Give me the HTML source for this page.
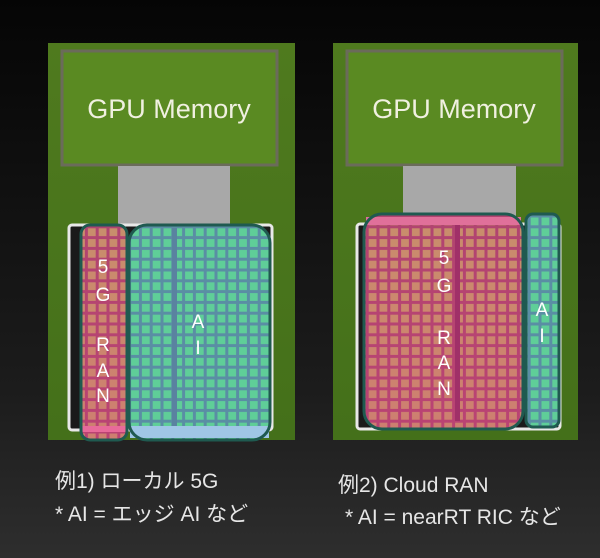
<!DOCTYPE html>
<html><head><meta charset="utf-8"><style>
html,body{margin:0;padding:0;width:600px;height:558px;overflow:hidden;background:#111}
svg{display:block}
</style></head><body>
<svg width="600" height="558" viewBox="0 0 600 558" xmlns="http://www.w3.org/2000/svg">
<defs>
<linearGradient id="bg" x1="0" y1="0" x2="0" y2="1">
<stop offset="0" stop-color="#050505"/><stop offset="0.7" stop-color="#1c1c1c"/><stop offset="1" stop-color="#2e2e2e"/>
</linearGradient>
<linearGradient id="board" x1="0" y1="0" x2="0" y2="1">
<stop offset="0" stop-color="#4f7a1e"/><stop offset="1" stop-color="#44701a"/>
</linearGradient>
<pattern id="pc" x="0" y="0" width="10.8" height="10.8" patternUnits="userSpaceOnUse">
<rect width="10.8" height="10.8" fill="#b04470"/><rect x="1.5" y="1.5" width="7.8" height="7.8" fill="#c88e6c"/>
</pattern>
<pattern id="gc" x="0" y="0" width="10.8" height="10.8" patternUnits="userSpaceOnUse">
<rect width="10.8" height="10.8" fill="#5a8ea4"/><rect x="1.5" y="1.5" width="7.8" height="7.8" fill="#5fce98"/>
</pattern>
<linearGradient id="pinkov" x1="0" y1="0" x2="0" y2="1">
<stop offset="0" stop-color="#ff4080" stop-opacity="0"/><stop offset="1" stop-color="#e04080" stop-opacity="0.2"/>
</linearGradient>
</defs>
<rect width="600" height="558" fill="url(#bg)"/>

<!-- LEFT -->
<rect x="48" y="43" width="247" height="397" fill="url(#board)"/>
<rect x="62" y="51" width="215" height="114" fill="#5a8a22" stroke="#6b6b5a" stroke-width="3"/>
<text x="169" y="118" text-anchor="middle" font-family="Liberation Sans, sans-serif" font-size="27" fill="#f0f0e0">GPU Memory</text>
<rect x="118" y="166" width="112" height="60" fill="#a8a8a8"/>
<rect x="69" y="225" width="203" height="205" fill="#1a1a1a" stroke="#e8e8e8" stroke-width="3" rx="3"/>
<g>
<rect x="81" y="225" width="46" height="215" rx="9" fill="url(#pc)"/>
<rect x="81" y="225" width="46" height="215" rx="9" fill="url(#pinkov)"/>
<rect x="81" y="426" width="46" height="6" fill="#e86a9a"/>
<rect x="81" y="225" width="46" height="215" rx="9" fill="none" stroke="#1f5a50" stroke-width="3"/>
</g>
<g>
<rect x="129" y="225" width="141" height="215" rx="18" fill="url(#gc)"/>
<rect x="172" y="228" width="5" height="198" fill="#5a82a0"/>
<rect x="130" y="426" width="139" height="12" fill="#9fc6e6"/>
<rect x="129" y="225" width="141" height="215" rx="18" fill="none" stroke="#1f5a50" stroke-width="3"/>
</g>
<g font-family="Liberation Sans, sans-serif" font-size="19" fill="#fff" text-anchor="middle">
<text x="103" y="273">5</text><text x="103" y="301">G</text>
<text x="103" y="351">R</text><text x="103" y="377">A</text><text x="103" y="402">N</text>
<text x="198" y="328">A</text><text x="198" y="354">I</text>
</g>

<!-- RIGHT -->
<rect x="333" y="43" width="245" height="397" fill="url(#board)"/>
<rect x="347" y="51" width="215" height="114" fill="#5a8a22" stroke="#6b6b5a" stroke-width="3"/>
<text x="454" y="118" text-anchor="middle" font-family="Liberation Sans, sans-serif" font-size="27" fill="#f0f0e0">GPU Memory</text>
<rect x="403" y="166" width="113" height="52" fill="#a8a8a8"/>
<rect x="357" y="224" width="203" height="205" fill="#1a1a1a" stroke="#e8e8e8" stroke-width="3" rx="3"/>
<g>
<rect x="364" y="214" width="159" height="215" rx="18" fill="url(#pc)"/>
<rect x="364" y="214" width="159" height="215" rx="18" fill="url(#pinkov)"/>
<rect x="366" y="217" width="155" height="8" fill="#e0709a"/>
<rect x="455" y="225" width="5" height="196" fill="#a03068"/>
<rect x="364" y="214" width="159" height="215" rx="18" fill="none" stroke="#1f5a50" stroke-width="3"/>
</g>
<g>
<rect x="526" y="214" width="33" height="213" rx="7" fill="url(#gc)"/>
<rect x="526" y="214" width="33" height="213" rx="7" fill="none" stroke="#1f5a50" stroke-width="3"/>
</g>
<g font-family="Liberation Sans, sans-serif" font-size="19" fill="#fff" text-anchor="middle">
<text x="444" y="264">5</text><text x="444" y="292">G</text>
<text x="444" y="344">R</text><text x="444" y="369">A</text><text x="444" y="395">N</text>
<text x="542" y="316">A</text><text x="542" y="342">I</text>
</g>

<!-- captions -->
<g font-family="Liberation Sans, 'Noto Sans CJK JP', sans-serif" font-size="21" fill="#e6e6e6">
<text x="55" y="488">例1) ローカル 5G</text>
<text x="55" y="521">* AI = エッジ AI など</text>
<text x="338" y="492">例2) Cloud RAN</text>
<text x="345" y="524">* AI = nearRT RIC など</text>
</g>
</svg>
</body></html>
